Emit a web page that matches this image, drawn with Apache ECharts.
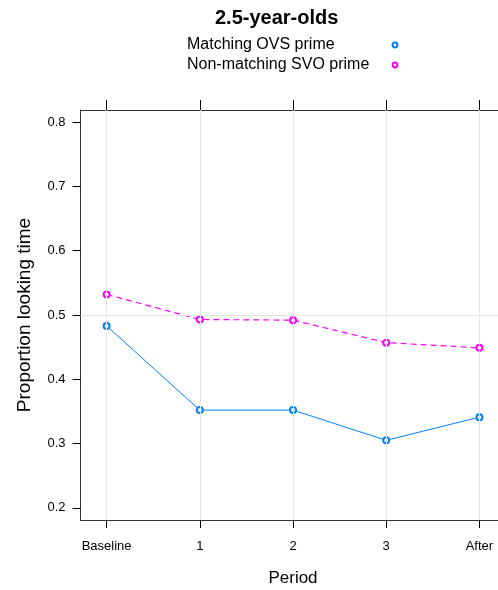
<!DOCTYPE html>
<html><head><meta charset="utf-8">
<script src="https://cdn.jsdelivr.net/npm/echarts@6/dist/echarts.min.js"></script>
<style>html,body{margin:0;padding:0;background:#fff}#c{width:498px;height:590px}</style>
</head><body><div id="c"></div>
<script>
const categories = ['Baseline', '1', '2', '3', 'After'];
const matchingOVS = [0.483, 0.352, 0.352, 0.305, 0.341];
const nonMatchingSVO = [0.532, 0.493, 0.492, 0.457, 0.449];
const yTicks = [0.2, 0.3, 0.4, 0.5, 0.6, 0.7, 0.8];
const seriesNames = ['Matching OVS prime', 'Non-matching SVO prime'];

const chart = echarts.init(document.getElementById('c'), null, {renderer: 'canvas'});
const font = 'Liberation Sans, Arial, sans-serif';
const toPts = arr => arr.map((v, i) => [i, v]);
const xIdx = categories.map((c, i) => i);
const axisCol = '#333';

chart.setOption({
  animation: false,
  title: {
    text: '2.5-year-olds', left: 210, top: 3,
    textStyle: {fontFamily: font, fontWeight: 'bold', fontSize: 20, color: '#000'}
  },
  legend: {
    orient: 'vertical', left: 182, top: 32, align: 'right',
    itemWidth: 6, itemHeight: 6, itemGap: 4,
    formatter: name => '{t|' + name + '}',
    textStyle: {
      fontFamily: font, fontSize: 16, color: '#000',
      rich: {t: {fontFamily: font, fontSize: 16, lineHeight: 16, color: '#000', width: 200, align: 'left'}}
    },
    data: seriesNames
  },
  grid: {left: 80.5, top: 110, width: 425, bottom: 70, containLabel: false, outerBoundsMode: 'none'},
  xAxis: [{
    type: 'value', min: -0.28, max: 4.28,
    name: 'Period', nameLocation: 'middle', nameGap: 50,
    nameTextStyle: {fontFamily: font, fontSize: 17, color: '#000'},
    axisLine: {show: true, onZero: false, lineStyle: {color: axisCol, width: 1}},
    axisTick: {show: true, length: 8, customValues: xIdx, lineStyle: {color: '#000'}},
    axisLabel: {customValues: xIdx, margin: 20, fontFamily: font, fontSize: 13, color: '#000',
      formatter: v => categories[Math.round(v)]},
    splitLine: {show: false}
  }, {
    type: 'value', position: 'top', min: -0.28, max: 4.28,
    axisLine: {show: true, onZero: false, lineStyle: {color: axisCol, width: 1}},
    axisTick: {show: true, length: 10, customValues: xIdx, lineStyle: {color: '#000'}},
    axisLabel: {show: false},
    splitLine: {show: false}
  }],
  yAxis: {
    type: 'value', min: 0.181, max: 0.819,
    name: 'Proportion looking time', nameLocation: 'middle', nameGap: 46, nameRotate: 90,
    nameTextStyle: {fontFamily: font, fontSize: 19, color: '#000'},
    axisLine: {show: true, onZero: false, lineStyle: {color: axisCol, width: 1}},
    axisTick: {show: true, length: 8, customValues: yTicks, lineStyle: {color: '#000'}},
    axisLabel: {customValues: yTicks, margin: 15, fontFamily: font, fontSize: 13, color: '#000',
      formatter: v => v.toFixed(1)},
    splitLine: {show: false}
  },
  series: [
    {
      name: seriesNames[0], type: 'line', data: toPts(matchingOVS),
      symbol: 'emptyCircle', symbolSize: 6,
      itemStyle: {color: '#0080ff', borderColor: '#0080ff', borderWidth: 0.8},
      lineStyle: {color: '#0080ff', width: 1},
      markLine: {
        silent: true, symbol: 'none', label: {show: false},
        lineStyle: {color: '#e6e6e6', type: 'solid', width: 1},
        data: [{yAxis: 0.5}].concat(xIdx.map(i => ({xAxis: i})))
      },
      z: 3
    },
    {
      name: seriesNames[1], type: 'line', data: toPts(nonMatchingSVO),
      symbol: 'emptyCircle', symbolSize: 6,
      itemStyle: {color: '#ff00ff', borderColor: '#ff00ff', borderWidth: 0.8},
      lineStyle: {color: '#ff00ff', width: 1.2, type: [6, 4]},
      z: 3
    }
  ]
});
</script>
</body></html>
